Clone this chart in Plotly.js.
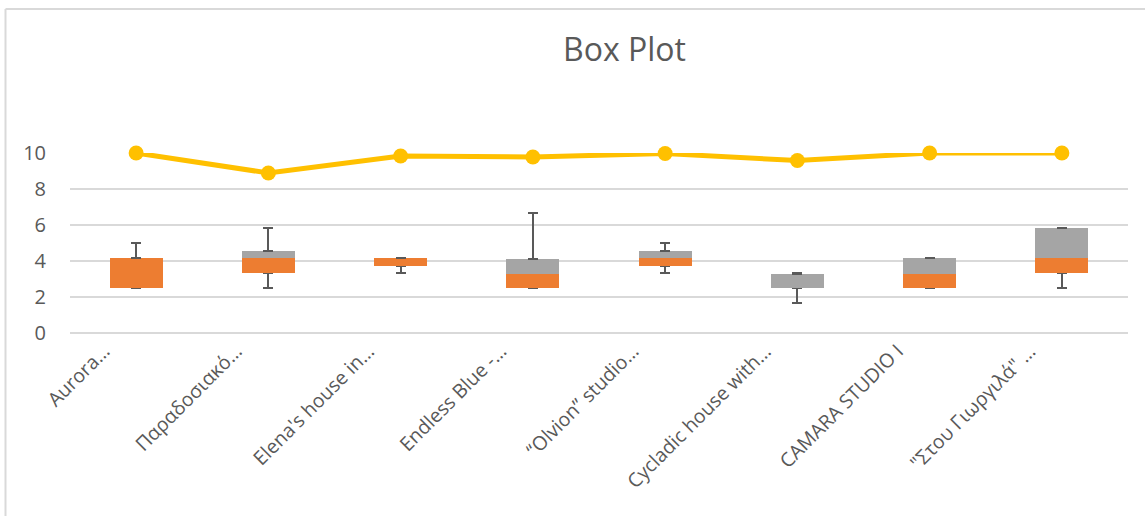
<!DOCTYPE html>
<html>
<head>
<meta charset="utf-8">
<script src="https://cdn.plot.ly/plotly-3.0.1.min.js"></script>
<style>
  html, body { margin: 0; padding: 0; background: #ffffff; }
  #chart { width: 1145px; height: 516px; }
</style>
</head>
<body>
<div id="chart"></div>
<script>
// ---- Data ----
const categories = [
  "Aurora…",
  "Παραδοσιακό…",
  "Elena's house in…",
  "Endless Blue -…",
  "“Olvion” studio…",
  "Cycladic house with…",
  "CAMARA STUDIO I",
  "\"Στου Γιωργιλά\" …"
];
const minValues    = [2.5, 2.5, 3.33, 2.5, 3.33, 1.67, 2.5, 2.5];
const q1Values     = [2.5, 3.33, 3.75, 2.5, 3.75, 2.5, 2.5, 3.33];
const medianValues = [4.17, 4.17, 4.17, 3.29, 4.17, 2.5, 3.29, 4.17];
const q3Values     = [4.17, 4.58, 4.17, 4.13, 4.58, 3.29, 4.17, 5.83];
const maxValues    = [5.0, 5.83, 4.17, 6.67, 5.0, 3.33, 4.17, 5.83];
const lineValues   = [10, 8.89, 9.83, 9.78, 9.97, 9.58, 10, 10];

// derived segments for the stacked-bar box plot
const lowerBox = q1Values.map((q, i) => medianValues[i] - q);
const upperBox = q3Values.map((q, i) => q - medianValues[i]);
const lowerWhisker = q1Values.map((q, i) => q - minValues[i]);
const upperWhisker = maxValues.map((m, i) => m - q3Values[i]);

const whiskerStyle = { color: "#595959", thickness: 2, width: 5 };

const traces = [
  {
    type: "bar", x: categories, y: q1Values, name: "Base",
    marker: { color: "rgba(0,0,0,0)" },
    error_y: Object.assign({ type: "data", symmetric: false,
      array: q1Values.map(() => 0), arrayminus: lowerWhisker, visible: true }, whiskerStyle),
    hoverinfo: "skip", showlegend: false
  },
  {
    type: "bar", x: categories, y: lowerBox, name: "Q1–Median",
    marker: { color: "#ED7D31" }, showlegend: false
  },
  {
    type: "bar", x: categories, y: upperBox, name: "Median–Q3",
    marker: { color: "#A5A5A5" },
    error_y: Object.assign({ type: "data", symmetric: false,
      array: upperWhisker, arrayminus: upperWhisker.map(() => 0), visible: true }, whiskerStyle),
    showlegend: false
  },
  {
    type: "scatter", mode: "lines+markers", x: categories, y: lineValues, name: "Rating",
    line: { color: "#FFC000", width: 5 },
    marker: { color: "#FFC000", size: 15 },
    cliponaxis: false, showlegend: false
  }
];

const W = 1145, H = 516;
const ml = 70, mr = 17, mt = 153, mb = 183;
const pw = W - ml - mr, ph = H - mt - mb;

const layout = {
  width: W, height: H,
  margin: { l: ml, r: mr, t: mt, b: mb, pad: 0 },
  paper_bgcolor: "#ffffff", plot_bgcolor: "#ffffff",
  barmode: "stack", bargap: 0.6,
  showlegend: false,
  font: { family: "Open Sans, sans-serif", color: "#595959" },
  title: {
    text: "Box Plot",
    font: { size: 32, color: "#595959", family: "Open Sans, sans-serif" },
    x: 624.5 / W, xanchor: "center", xref: "container",
    y: 1 - 50 / H, yanchor: "middle", yref: "container"
  },
  xaxis: {
    type: "category", tickangle: -45,
    tickfont: { size: 19.5, color: "#595959" },
    showgrid: false, zeroline: false, showline: false, ticks: "",
    ticklabelshift: -32, ticklabelstandoff: 2,
    automargin: false
  },
  yaxis: {
    range: [0, 10], tickvals: [0, 2, 4, 6, 8, 10],
    tickfont: { size: 20, color: "#595959" },
    showgrid: true, gridcolor: "#d9d9d9", gridwidth: 1.5,
    zeroline: true, zerolinecolor: "#d9d9d9", zerolinewidth: 1.5,
    showline: false, ticks: "", ticklabelstandoff: 23,
    automargin: false, fixedrange: true
  },
  shapes: [
    { type: "line", xref: "paper", yref: "paper",
      x0: (5.5 - ml) / pw, x1: (5.5 - ml) / pw, y0: (H - mb - 9) / ph, y1: (H - mb - 530) / ph,
      line: { color: "#d9d9d9", width: 2 } },
    { type: "line", xref: "paper", yref: "paper",
      x0: (5.5 - ml) / pw, x1: (1160 - ml) / pw, y0: (H - mb - 9) / ph, y1: (H - mb - 9) / ph,
      line: { color: "#d9d9d9", width: 2 } }
  ]
};

Plotly.newPlot("chart", traces, layout, { displayModeBar: false, staticPlot: true });
</script>
</body>
</html>
